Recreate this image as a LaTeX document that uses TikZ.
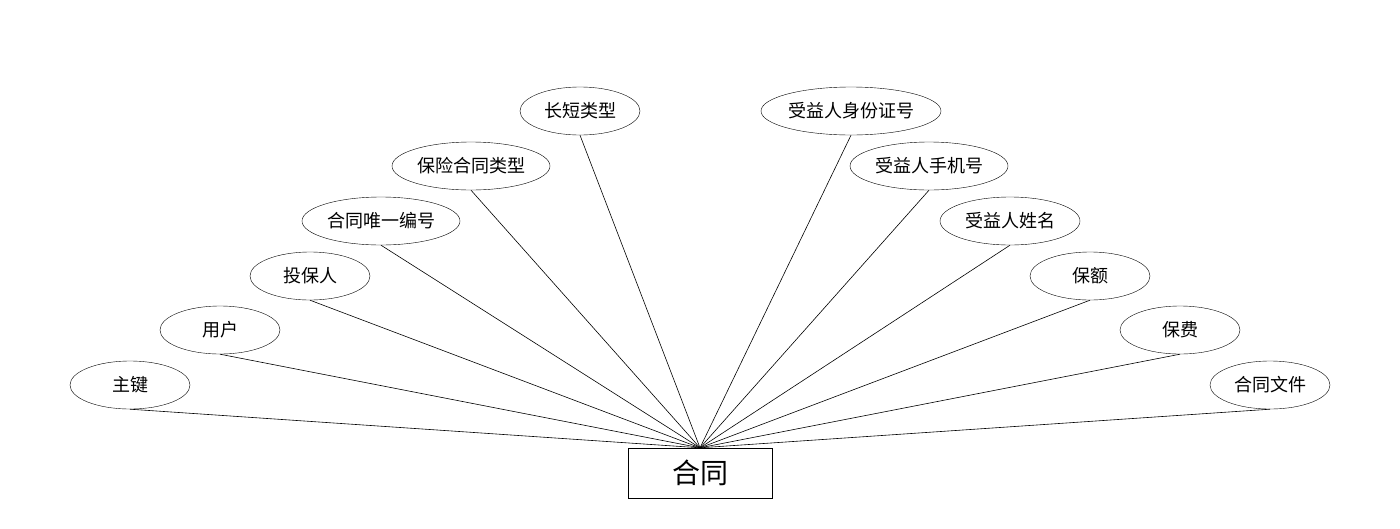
\documentclass[tikz,border=0pt]{standalone}
\usepackage{fontspec}
\newfontfamily\cjk{Noto Sans CJK SC}
\usetikzlibrary{shapes.geometric}
\begin{document}
\begin{tikzpicture}[x=1pt,y=-1pt,
  attr/.style={draw,ellipse,inner sep=0pt,minimum height=48pt,font=\cjk\fontsize{18}{20}\selectfont},
  ent/.style={draw,rectangle,minimum width=144pt,minimum height=50pt,font=\cjk\fontsize{28}{30}\selectfont},
  lk/.style={draw,line width=0.6pt}]
\useasboundingbox (0,0) rectangle (1400,528);
\node[ent] (h) at (700,473) {合同};
\node[attr,minimum width=120pt] (a1) at (130,385) {主键};
\node[attr,minimum width=120pt] (a2) at (220,330) {用户};
\node[attr,minimum width=120pt] (a3) at (310,276) {投保人};
\node[attr,minimum width=158pt] (a4) at (381,221) {合同唯一编号};
\node[attr,minimum width=158pt] (a5) at (471,166) {保险合同类型};
\node[attr,minimum width=120pt] (a6) at (580,111) {长短类型};
\node[attr,minimum width=180pt] (b1) at (851,111) {受益人身份证号};
\node[attr,minimum width=158pt] (b2) at (929,166) {受益人手机号};
\node[attr,minimum width=140pt] (b3) at (1010,221) {受益人姓名};
\node[attr,minimum width=120pt] (b4) at (1090,276) {保额};
\node[attr,minimum width=120pt] (b5) at (1180,330) {保费};
\node[attr,minimum width=120pt] (b6) at (1270,385) {合同文件};
\foreach \n in {a1,a2,a3,a4,a5,a6,b1,b2,b3,b4,b5,b6}
  \draw[lk] (\n.south) -- (h.north);
\end{tikzpicture}
\end{document}
